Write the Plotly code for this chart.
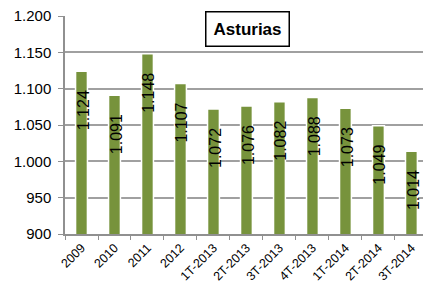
import plotly.graph_objects as go

categories = ["2009", "2010", "2011", "2012", "1T-2013", "2T-2013", "3T-2013",
              "4T-2013", "1T-2014", "2T-2014", "3T-2014"]
values = [1124, 1091, 1148, 1107, 1072, 1076, 1082, 1088, 1073, 1049, 1014]
value_labels = ["1.124", "1.091", "1.148", "1.107", "1.072", "1.076", "1.082",
                "1.088", "1.073", "1.049", "1.014"]
title_text = "Asturias"
y_ticks = [900, 950, 1000, 1050, 1100, 1150, 1200]

fig = go.Figure()
fig.add_trace(go.Bar(
    x=categories, y=values,
    marker=dict(color="#77933C", line=dict(color="#ffffff", width=1.5)),
    width=0.36,
    hoverinfo="skip",
))

for i, (v, t) in enumerate(zip(values, value_labels)):
    fig.add_annotation(
        x=i, y=v, xref="x", yref="y", text=t, showarrow=False,
        textangle=-90, yanchor="top", xanchor="center", yshift=-17, xshift=1.5,
        font=dict(family="Liberation Sans, Arial, sans-serif", size=16, color="#000000"),
    )

fig.add_annotation(
    x=0.509, y=0.941, xref="paper", yref="paper", text="<b>" + title_text + "</b>",
    xanchor="center", yanchor="middle",
    showarrow=False, font=dict(family="Liberation Sans, Arial, sans-serif", size=17, color="#000000"),
    bordercolor="#000000", borderwidth=1.5, borderpad=7, bgcolor="#ffffff",
)

fig.update_layout(
    width=423, height=283,
    margin=dict(l=65, r=0, t=16, b=47),
    paper_bgcolor="#ffffff", plot_bgcolor="#ffffff",
    separators=",.",
    showlegend=False,
    font=dict(family="Liberation Sans, Arial, sans-serif", color="#222222"),
)
fig.update_xaxes(
    type="category", range=[-0.5, 10.35],
    showline=True, linecolor="#909090", linewidth=1.5,
    ticks="outside", tickson="boundaries", ticklen=4, tickcolor="#909090",
    tickangle=-45, tickfont=dict(size=12.5, color="#000000"),
    showgrid=False,
)
fig.update_yaxes(
    range=[900, 1200], tickvals=y_ticks, tickformat=",d",
    showline=True, linecolor="#909090", linewidth=1.5,
    ticks="outside", ticklen=5, tickcolor="#909090", ticklabelstandoff=4,
    showgrid=True, gridcolor="#a0a0a0", gridwidth=1.5,
    tickfont=dict(size=15, color="#000000"), zeroline=False,
)

fig.write_html("out.html", config={"displayModeBar": False},
               post_script="document.body.style.margin='0';document.body.style.overflow='hidden';")
